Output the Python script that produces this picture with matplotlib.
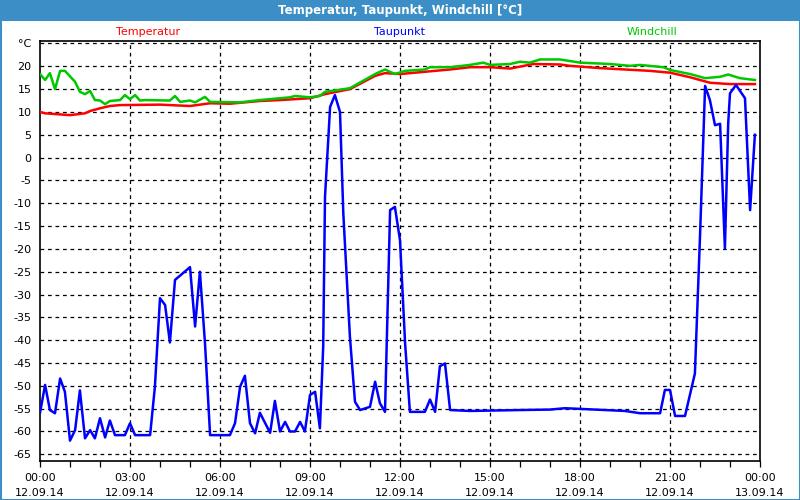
import matplotlib
matplotlib.use("Agg")
import matplotlib.pyplot as plt
from matplotlib.patches import Rectangle
import numpy as np

# ---- data (hours since 12.09.14 00:00) ----
temp_h = [0, 0.17, 1.0, 1.5, 1.67, 2.0, 2.33, 2.67, 4.0, 5.0, 5.67, 6.33, 7.33, 8.0, 9.0,
          9.5, 10.33, 11.17, 11.5, 12.0, 12.83, 13.67, 14.33, 15.0, 15.67, 16.44, 17.33,
          17.67, 18.67, 19.5, 20.33, 21.0, 21.67, 22.33, 23.0, 23.83]
temp_v = [10.0, 9.7, 9.3, 9.7, 10.2, 10.8, 11.3, 11.5, 11.6, 11.3, 11.9, 11.8, 12.4, 12.6, 13.0,
          13.9, 15.0, 17.9, 18.5, 18.3, 18.8, 19.3, 19.8, 19.8, 19.5, 20.5, 20.4,
          20.1, 19.6, 19.3, 19.0, 18.6, 17.6, 16.4, 16.1, 16.1]

dew_h = [0, 0.17, 0.33, 0.5, 0.67, 0.83, 1.0, 1.17, 1.33, 1.5, 1.67, 1.83, 2.0, 2.17, 2.33,
         2.5, 2.83, 3.0, 3.17, 3.67, 3.83, 4.0, 4.17, 4.33, 4.5, 5.0, 5.17, 5.33, 5.5, 5.67,
         6.33, 6.5, 6.67, 6.83, 7.0, 7.17, 7.33, 7.67, 7.83, 8.0, 8.17, 8.33, 8.5, 8.67, 8.83,
         9.0, 9.17, 9.33, 9.44, 9.5, 9.67, 9.83, 10.0, 10.11, 10.33, 10.5, 10.67, 11.0, 11.17,
         11.33, 11.5, 11.67, 11.83, 12.0, 12.17, 12.33, 12.83, 13.0, 13.17, 13.33, 13.5, 13.67,
         14.33, 16.0, 17.0, 17.5, 18.5, 19.5, 20.0, 20.67, 20.83, 21.0, 21.17, 21.5, 21.83,
         22.0, 22.17, 22.33, 22.5, 22.67, 22.83, 22.94, 23.0, 23.2, 23.5, 23.67, 23.83]
dew_v = [-55.9, -49.8, -55.3, -56.0, -48.4, -51.3, -62.0, -59.7, -51.0, -61.5, -59.7, -61.5,
         -57.1, -61.3, -57.6, -60.8, -60.8, -58.2, -60.8, -60.8, -50.2, -30.8, -32.3, -40.5,
         -26.8, -24.0, -37.0, -25.0, -40.7, -60.8, -60.8, -58.2, -50.2, -47.8, -58.2, -60.4,
         -55.9, -60.3, -53.3, -60.0, -57.9, -60.0, -60.0, -57.9, -60.0, -52.0, -51.3, -59.3,
         -41.4, -8.6, 11.1, 13.7, 10.0, -12.2, -39.2, -53.5, -55.3, -54.6, -49.1, -53.8, -55.7,
         -11.5, -10.8, -18.1, -40.7, -55.7, -55.7, -53.0, -55.7, -45.7, -45.1, -55.3,
         -55.5, -55.3, -55.2, -54.9, -55.2, -55.5, -56.0, -56.0, -50.9, -50.9, -56.6, -56.6,
         -47.3, -17.3, 15.7, 12.6, 7.1, 7.4, -19.9, 7.5, 14.1, 15.9, 13.0, -11.5, 5.0]

wind_h = [0, 0.17, 0.33, 0.5, 0.67, 0.83, 1.17, 1.33, 1.5, 1.67, 1.83, 2.0, 2.17, 2.33, 2.67,
          2.83, 3.0, 3.17, 3.33, 3.5, 4.33, 4.5, 4.67, 5.0, 5.17, 5.5, 5.67, 6.67, 7.33, 8.33,
          8.5, 9.0, 9.33, 9.5, 10.33, 11.17, 11.5, 11.83, 12.17, 12.83, 13.0, 13.67, 14.33,
          14.78, 15.0, 15.67, 16.0, 16.33, 16.67, 17.33, 18.0, 19.0, 19.67, 20.0, 20.78, 21.0,
          21.67, 22.17, 22.67, 22.94, 23.33, 23.83]
wind_v = [18.3, 17.0, 18.5, 15.0, 19.0, 19.0, 16.6, 14.4, 13.9, 14.6, 12.6, 12.5, 11.7, 12.4, 12.6,
          13.7, 12.8, 13.7, 12.5, 12.6, 12.5, 13.5, 12.2, 12.5, 12.1, 13.3, 12.2, 12.1, 12.6, 13.2,
          13.5, 13.2, 13.5, 14.4, 15.2, 18.3, 19.3, 18.3, 19.0, 19.3, 19.8, 19.8, 20.3,
          20.8, 20.3, 20.5, 21.0, 20.8, 21.5, 21.5, 20.8, 20.5, 20.1, 20.3, 19.8, 19.2,
          18.3, 17.4, 17.7, 18.2, 17.4, 17.0]

y_ticks = list(range(-65, 30, 5))
x_ticks = [0, 3, 6, 9, 12, 15, 18, 21, 24]
x_labels = ["00:00\n12.09.14", "03:00\n12.09.14", "06:00\n12.09.14", "09:00\n12.09.14",
            "12:00\n12.09.14", "15:00\n12.09.14", "18:00\n12.09.14", "21:00\n12.09.14",
            "00:00\n13.09.14"]

BAR = "#3c8fc6"
RED = "#ff0000"
BLUE = "#0000ff"
GREEN = "#00c800"

fig = plt.figure(figsize=(8, 5), dpi=100)
fig.patch.set_facecolor("white")

# title bar and border
fig.patches.append(Rectangle((0, 1 - 21 / 500), 1, 21 / 500, transform=fig.transFigure,
                             facecolor=BAR, edgecolor="none", zorder=0))
fig.patches.append(Rectangle((0.5 / 800, 0.5 / 500), 1 - 1 / 800, 1 - 1 / 500,
                             transform=fig.transFigure, facecolor="none", edgecolor=BAR,
                             linewidth=1.5, zorder=0))
fig.text(0.5, 1 - 10.5 / 500, "Temperatur, Taupunkt, Windchill [°C]", color="white",
         ha="center", va="center", fontsize=8.5, fontweight="bold", family="DejaVu Sans")

ax = fig.add_axes([40 / 800, 1 - 460.7 / 500, 720 / 800, 420.2 / 500])
ax.set_xlim(0, 24)
ax.set_ylim(-66.4, 25.65)

ax.plot(temp_h, temp_v, color=RED, lw=1.8, zorder=3)
ax.plot(wind_h, wind_v, color=GREEN, lw=1.8, zorder=3)
ax.plot(dew_h, dew_v, color=BLUE, lw=1.8, zorder=4)

for yv in y_ticks:
    ax.axhline(yv, color="black", lw=0.9, ls=(0, (3, 3)), zorder=1)
for xv in x_ticks[1:-1]:
    ax.axvline(xv, color="black", lw=0.9, ls=(0, (3, 3)), zorder=1)

ax.set_yticks(y_ticks)
ax.set_yticklabels([str(v) if v != 25 else "°C" for v in y_ticks])
ax.tick_params(axis="y", length=0, pad=6, labelsize=8)
ax.set_xticks(x_ticks)
ax.set_xticklabels(x_labels, fontsize=8, linespacing=1.6)
ax.set_xticks(np.arange(0, 25, 1), minor=True)
ax.tick_params(axis="x", which="both", length=4, width=0.9, direction="out", pad=5)
for s in ax.spines.values():
    s.set_linewidth(1.2)
    s.set_color("black")

ax.text(148 / 800, 1 - 32 / 500, "Temperatur", color=RED, fontsize=8, ha="center",
        va="center", transform=fig.transFigure)
ax.text(400 / 800, 1 - 32 / 500, "Taupunkt", color=BLUE, fontsize=8, ha="center",
        va="center", transform=fig.transFigure)
ax.text(652 / 800, 1 - 32 / 500, "Windchill", color=GREEN, fontsize=8, ha="center",
        va="center", transform=fig.transFigure)

fig.savefig("out.png", dpi=100)
